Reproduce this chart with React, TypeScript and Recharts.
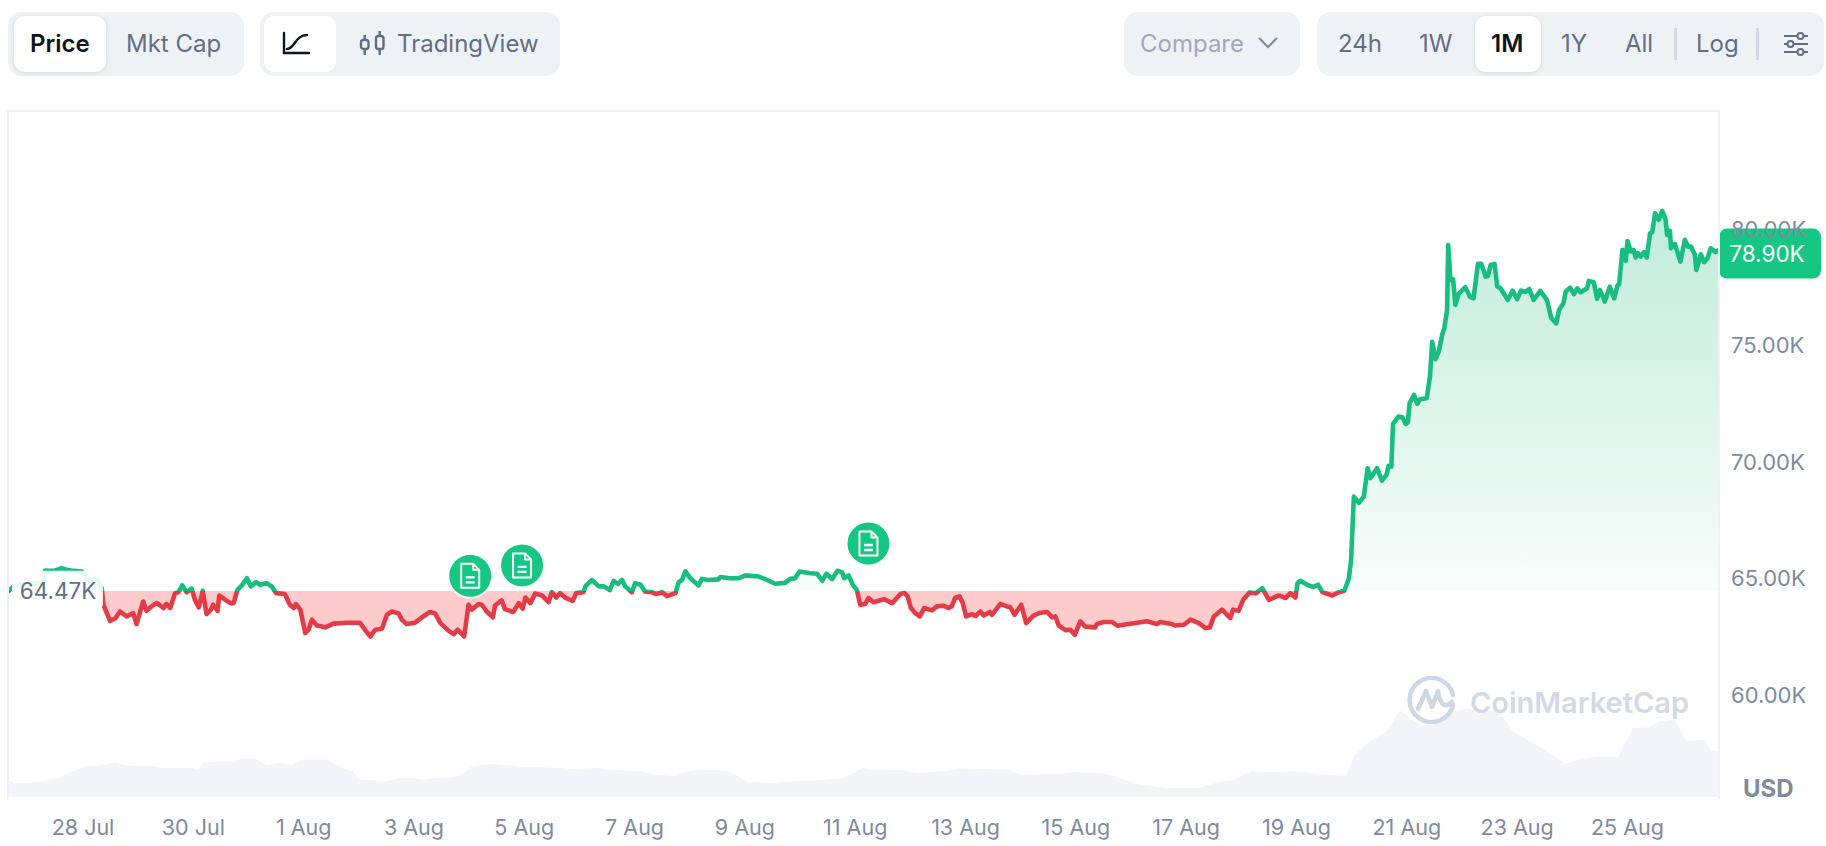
import React from 'react';
import {
  Area,
  CartesianGrid,
  ComposedChart,
  ReferenceDot,
  XAxis,
  YAxis,
} from 'recharts';

// time is in days counted from 28 Jul, prices in thousands of USD
const priceTimes = [
  -1.36, -1.26, -1.02, -0.84, -0.72, -0.69, -0.6, -0.51, -0.39, -0.3, -0.21, -0.02, 0.07, 0.25, 0.34, 0.37, 0.49, 0.58, 0.67, 0.79,
  0.91, 0.97, 1.09, 1.15, 1.28, 1.34, 1.46, 1.51, 1.58, 1.67, 1.73, 1.8, 1.88, 1.97, 2.03, 2.1, 2.17, 2.24, 2.32, 2.36,
  2.44, 2.47, 2.58, 2.67, 2.73, 2.8, 2.88, 2.97, 3.04, 3.14, 3.21, 3.33, 3.42, 3.5, 3.66, 3.75, 3.82, 3.86, 3.94, 4.03,
  4.09, 4.15, 4.24, 4.39, 4.54, 4.78, 5.02, 5.11, 5.21, 5.3, 5.42, 5.51, 5.6, 5.72, 5.78, 5.87, 6.02, 6.17, 6.29, 6.38,
  6.48, 6.63, 6.72, 6.79, 6.91, 6.99, 7.05, 7.17, 7.23, 7.32, 7.43, 7.47, 7.59, 7.65, 7.8, 7.9, 7.97, 8.02, 8.11, 8.2,
  8.32, 8.44, 8.5, 8.58, 8.65, 8.74, 8.88, 8.94, 9.07, 9.12, 9.23, 9.35, 9.44, 9.55, 9.62, 9.7, 9.77, 9.83, 9.95, 10.01,
  10.11, 10.19, 10.31, 10.39, 10.5, 10.59, 10.74, 10.8, 10.86, 10.92, 11.01, 11.16, 11.22, 11.34, 11.52, 11.55, 11.73, 11.89, 12.01, 12.25,
  12.37, 12.55, 12.73, 12.82, 12.91, 12.99, 13.16, 13.31, 13.4, 13.48, 13.58, 13.68, 13.76, 13.8, 13.88, 13.96, 14.03, 14.09, 14.18, 14.24,
  14.33, 14.52, 14.67, 14.82, 14.89, 14.95, 15.01, 15.09, 15.17, 15.25, 15.39, 15.48, 15.6, 15.69, 15.75, 15.81, 15.89, 15.95, 16.01, 16.12,
  16.18, 16.27, 16.33, 16.44, 16.48, 16.63, 16.75, 16.81, 16.89, 17.01, 17.1, 17.23, 17.36, 17.48, 17.57, 17.63, 17.69, 17.81, 17.9, 17.98,
  18.08, 18.17, 18.35, 18.38, 18.5, 18.66, 18.75, 19.05, 19.29, 19.47, 19.53, 19.74, 19.8, 19.96, 20.08, 20.23, 20.35, 20.43, 20.5, 20.65,
  20.8, 20.85, 20.95, 21.04, 21.15, 21.26, 21.38, 21.5, 21.68, 21.8, 21.89, 21.98, 22.02, 22.07, 22.22, 22.31, 22.39, 22.47, 22.65, 22.77,
  22.87, 22.95, 22.99, 23.04, 23.13, 23.22, 23.29, 23.34, 23.46, 23.55, 23.63, 23.67, 23.72, 23.75, 23.85, 23.92, 23.98, 24.02, 24.05, 24.13,
  24.19, 24.24, 24.36, 24.42, 24.46, 24.52, 24.58, 24.64, 24.68, 24.73, 24.75, 24.79, 24.84, 24.88, 24.94, 25.06, 25.15, 25.21, 25.29, 25.35,
  25.43, 25.47, 25.52, 25.59, 25.64, 25.7, 25.83, 25.92, 26.0, 26.07, 26.15, 26.22, 26.3, 26.42, 26.54, 26.62, 26.71, 26.76, 26.84, 26.88,
  26.96, 27.03, 27.09, 27.15, 27.27, 27.3, 27.39, 27.45, 27.5, 27.59, 27.68, 27.76, 27.82, 27.85, 27.91, 27.97, 28.0, 28.06, 28.11, 28.15,
  28.19, 28.24, 28.3, 28.35, 28.41, 28.45, 28.5, 28.57, 28.63, 28.69, 28.72, 28.77, 28.79, 28.86, 28.96, 29.04, 29.1, 29.15, 29.22, 29.25,
  29.33, 29.39, 29.45, 29.51, 29.6, 29.66,
];

const priceValues = [
  64.44, 64.66, 64.76, 64.8, 64.84, 65.34, 65.33, 65.33, 65.44, 65.37, 65.34, 65.3, 64.94, 64.98, 64.58, 63.87, 63.18, 63.27, 63.58, 63.37,
  63.51, 63.04, 64.01, 63.61, 63.87, 63.94, 63.73, 63.91, 63.73, 64.37, 64.41, 64.7, 64.41, 64.56, 64.08, 63.76, 64.47, 63.47, 63.66, 63.87,
  63.61, 64.27, 64.08, 63.94, 63.94, 64.51, 64.7, 65.01, 64.66, 64.84, 64.73, 64.8, 64.66, 64.37, 64.33, 63.87, 63.73, 63.9, 63.66, 62.66,
  62.8, 63.23, 62.98, 62.9, 63.06, 63.1, 63.1, 62.8, 62.51, 62.8, 62.84, 63.44, 63.58, 63.5, 63.23, 63.04, 63.1, 63.37, 63.56, 63.51,
  63.08, 62.75, 62.61, 62.8, 62.51, 63.87, 63.66, 63.9, 63.87, 63.58, 63.33, 63.84, 64.06, 63.68, 63.56, 63.94, 63.7, 64.18, 63.94, 64.36,
  64.27, 63.98, 64.41, 64.18, 64.37, 64.18, 64.04, 64.37, 64.41, 64.7, 64.93, 64.66, 64.66, 64.5, 64.9, 64.76, 64.94, 64.66, 64.41, 64.8,
  64.73, 64.44, 64.41, 64.33, 64.41, 64.24, 64.37, 64.84, 64.94, 65.3, 65.01, 64.7, 64.98, 64.93, 64.96, 65.06, 65.01, 65.01, 65.13, 65.08,
  64.97, 64.77, 64.81, 64.98, 65.01, 65.3, 65.23, 65.2, 64.9, 65.2, 64.97, 65.33, 65.27, 65.01, 65.13, 64.7, 64.51, 63.87, 63.9, 64.16,
  63.98, 64.11, 63.94, 64.33, 64.38, 64.23, 63.73, 63.51, 63.37, 63.73, 63.63, 63.8, 63.83, 63.73, 63.8, 64.16, 64.23, 63.94, 63.37, 63.47,
  63.38, 63.58, 63.41, 63.56, 63.44, 63.91, 63.8, 63.77, 63.44, 63.87, 63.08, 63.4, 63.53, 63.56, 63.33, 63.37, 62.98, 62.78, 62.8, 62.58,
  63.16, 62.93, 62.9, 63.04, 63.13, 63.13, 62.97, 63.08, 63.16, 63.04, 63.13, 63.04, 62.98, 63.01, 63.23, 63.08, 62.87, 62.9, 63.37, 63.66,
  63.3, 63.66, 63.61, 64.11, 64.4, 64.36, 64.58, 64.08, 64.27, 64.16, 64.37, 64.18, 64.8, 64.9, 64.7, 64.63, 64.73, 64.41, 64.27, 64.41,
  64.48, 65.01, 65.79, 68.51, 68.25, 68.51, 69.73, 69.3, 69.73, 69.2, 69.44, 69.83, 69.8, 71.63, 71.95, 71.92, 71.63, 71.7, 72.52, 72.88,
  72.49, 72.69, 72.73, 73.66, 75.16, 74.41, 74.74, 75.45, 75.74, 76.52, 79.31, 77.81, 77.84, 76.74, 77.21, 77.5, 77.07, 77.02, 78.5, 78.5,
  77.95, 77.98, 78.45, 78.5, 77.53, 77.45, 76.95, 77.35, 76.98, 77.35, 77.3, 77.42, 76.95, 77.34, 76.95, 76.17, 75.95, 76.52, 76.81, 77.31,
  77.48, 77.2, 77.45, 77.28, 77.45, 77.77, 77.71, 77.0, 77.38, 76.88, 77.52, 77.02, 77.57, 77.63, 79.1, 78.63, 79.48, 79.03, 79.1, 78.77,
  78.96, 78.81, 79.0, 78.77, 79.81, 79.86, 80.67, 80.39, 80.77, 80.43, 79.74, 79.91, 79.17, 79.36, 78.6, 79.53, 79.24, 79.24, 78.91, 78.24,
  78.91, 78.57, 78.74, 79.17, 79.0, 79.1,
];

const volumeTimes = [
  -1.36, -1.25, -1.04, -0.72, -0.41, -0.26, 0.06, 0.32, 0.58, 0.79, 1.31, 1.41, 1.98, 2.09, 2.19, 2.66, 2.92, 3.13, 3.34, 3.54,
  3.8, 3.96, 4.43, 4.69, 4.9, 5.0, 5.26, 5.42, 5.73, 6.04, 6.2, 6.35, 6.67, 6.87, 7.05, 7.45, 7.97, 8.7, 8.8, 9.32,
  9.53, 10.1, 10.41, 10.73, 10.88, 11.14, 11.66, 11.87, 12.03, 12.6, 12.7, 13.38, 13.75, 13.95, 14.14, 14.32, 14.82, 15.14, 15.62, 15.89,
  16.8, 17.01, 17.71, 17.92, 18.46, 18.73, 19.05, 19.32, 19.64, 20.23, 20.55, 20.87, 21.19, 21.51, 22.1, 22.48, 22.9, 23.04, 23.28, 23.65,
  23.87, 24.03, 24.24, 24.51, 24.83, 25.1, 25.69, 25.9, 26.23, 26.49, 26.87, 27.08, 27.46, 27.83, 28.1, 28.37, 28.58, 28.85, 29.07, 29.39,
  29.5, 29.67,
];

const volumeValues = [
  10.1, 7.8, 8.2, 9.1, 11.5, 14.0, 17.9, 18.4, 20.2, 18.3, 17.9, 16.9, 16.9, 15.9, 20.2, 20.8, 22.5, 22.3, 18.3, 19.8,
  18.8, 21.7, 21.7, 16.9, 15.0, 10.1, 9.7, 8.7, 11.1, 10.9, 9.7, 11.1, 11.3, 12.6, 17.9, 19.2, 17.5, 17.1, 16.3, 16.9,
  15.9, 15.0, 13.0, 12.0, 14.4, 15.9, 15.5, 12.4, 8.7, 8.2, 8.7, 9.9, 10.9, 13.6, 16.9, 15.9, 15.7, 14.0, 15.0, 16.7,
  15.9, 13.0, 13.4, 14.6, 14.0, 12.0, 7.8, 6.6, 5.2, 5.2, 8.5, 10.1, 15.3, 14.6, 15.0, 13.0, 12.4, 23.7, 31.5, 38.8,
  50.5, 47.0, 41.6, 42.1, 49.9, 51.3, 49.9, 39.2, 32.4, 27.6, 19.4, 21.4, 23.7, 23.3, 40.2, 40.6, 44.1, 45.0, 32.8, 33.4,
  27.6, 26.6,
];

const dateTicks = [0, 2, 4, 6, 8, 10, 12, 14, 16, 18, 20, 22, 24, 26, 28];
const dateLabels = [
  '28 Jul', '30 Jul', '1 Aug', '3 Aug', '5 Aug', '7 Aug', '9 Aug', '11 Aug',
  '13 Aug', '15 Aug', '17 Aug', '19 Aug', '21 Aug', '23 Aug', '25 Aug',
];
const priceTicks = [60, 65, 70, 75, 80];
const basePrice = 64.47;
const lastPrice = 78.9;
const newsTimes = [7.02, 7.96, 14.24];
const newsPrices = [65.11, 65.56, 66.5];

const GREEN = '#16c784';
const LINE_GREEN = '#19bd80';
const RED = '#e23c46';
const FONT = 'Inter, sans-serif';
const X_DOMAIN: [number, number] = [-1.36, 29.66];

const priceRows = priceTimes.map((t, i) => ({ t, price: priceValues[i] }));
const volumeRows = volumeTimes.map((t, i) => ({ t, volume: volumeValues[i] }));

// where the baseline sits inside the bounding box of the price path
const maxPrice = Math.max(...priceValues);
const minPrice = Math.min(...priceValues);
const splitOffset = (maxPrice - basePrice) / (maxPrice - minPrice);

function LastPriceTag({ cx, cy }: { cx?: number; cy?: number }) {
  return (
    <g>
      <rect x={cx} y={cy - 26} width={102} height={50} rx={8} fill={GREEN} />
      <text x={cx + 48} y={cy + 7} textAnchor="middle" fill="#fff" fontSize={22.5} fontFamily={FONT}>
        {lastPrice.toFixed(2)}K
      </text>
    </g>
  );
}

function BasePriceTag({ cx, cy }: { cx?: number; cy?: number }) {
  return (
    <g>
      <rect x={cx + 4} y={cy - 20} width={91} height={39} rx={6} fill="#fff" fillOpacity={0.9} />
      <text x={cx + 50} y={cy + 8} textAnchor="middle" fill="#616e85" fontSize={22.5} fontFamily={FONT}>
        {basePrice.toFixed(2)}K
      </text>
    </g>
  );
}

function NewsMarker({ cx, cy }: { cx?: number; cy?: number }) {
  return (
    <g transform={`translate(${cx},${cy})`}>
      <circle r={23} fill="#fff" fillOpacity={0.85} />
      <circle r={21} fill={GREEN} />
      <path
        d="M-9,-12 H3 L9,-6 V12 H-9 Z M3,-12 V-6 H9"
        fill="none"
        stroke="#fff"
        strokeWidth={2}
        strokeLinejoin="round"
      />
      <path d="M-4.5,1.5 H4.5 M-4.5,6.5 H4.5" stroke="#fff" strokeWidth={2.4} />
    </g>
  );
}

function ToolbarText({ left, children, color = '#616e85', weight = 400 }: any) {
  return (
    <span
      style={{
        position: 'absolute',
        left,
        top: 29,
        lineHeight: '30px',
        fontSize: 24,
        fontWeight: weight,
        color,
        whiteSpace: 'nowrap',
      }}
    >
      {children}
    </span>
  );
}

function Box({ left, width, top = 12, height = 64, bg = '#eff2f5', radius = 14, shadow }: any) {
  return (
    <div
      style={{
        position: 'absolute',
        left,
        top,
        width,
        height,
        background: bg,
        borderRadius: radius,
        boxShadow: shadow,
      }}
    />
  );
}

function Toolbar() {
  const lift = '0 1px 4px rgba(88,102,126,0.18)';
  return (
    <>
      <Box left={8} width={236} />
      <Box left={14} top={16} width={92} height={56} bg="#fff" radius={11} shadow={lift} />
      <ToolbarText left={30} color="#0d1421" weight={600}>Price</ToolbarText>
      <ToolbarText left={126}>Mkt Cap</ToolbarText>

      <Box left={260} width={300} />
      <Box left={264} top={16} width={72} height={56} bg="#fff" radius={11} />
      <svg style={{ position: 'absolute', left: 281, top: 31 }} width={30} height={25} fill="none" stroke="#0d1421" strokeWidth={2.4} strokeLinecap="round">
        <path d="M3,2 V22 H28" />
        <path d="M6,18 C14,18 14,4 26,4" />
      </svg>
      <svg style={{ position: 'absolute', left: 359, top: 31 }} width={27} height={25} fill="none" stroke="#616e85" strokeWidth={2.4}>
        <rect x={2} y={9} width={7.5} height={9} rx={2.5} />
        <rect x={17} y={5} width={7.5} height={13} rx={2.5} />
        <path d="M5.7,4 V9 M5.7,18 V24 M20.7,0 V5 M20.7,18 V24" />
      </svg>
      <ToolbarText left={397}>TradingView</ToolbarText>

      <Box left={1124} width={176} />
      <ToolbarText left={1140} color="#a1a7bb">Compare</ToolbarText>
      <svg style={{ position: 'absolute', left: 1257, top: 35 }} width={22} height={16} fill="none" stroke="#808a9d" strokeWidth={2.2}>
        <path d="M2,3 L11,12 L20,3" />
      </svg>

      <Box left={1317} width={507} />
      <Box left={1475} top={16} width={66} height={56} bg="#fff" radius={11} shadow={lift} />
      <ToolbarText left={1338}>24h</ToolbarText>
      <ToolbarText left={1419}>1W</ToolbarText>
      <ToolbarText left={1491} color="#0d1421" weight={600}>1M</ToolbarText>
      <ToolbarText left={1561}>1Y</ToolbarText>
      <ToolbarText left={1625}>All</ToolbarText>
      <Box left={1674} top={28} width={3} height={32} bg="#cfd6e4" radius={1} />
      <ToolbarText left={1696}>Log</ToolbarText>
      <Box left={1756} top={28} width={3} height={32} bg="#cfd6e4" radius={1} />
      <svg style={{ position: 'absolute', left: 1783, top: 32 }} width={26} height={24} fill="none" stroke="#616e85" strokeWidth={2}>
        <path d="M1,4 H14 M21,4 H25 M1,12 H4 M11,12 H25 M1,20 H14 M21,20 H25" />
        <circle cx={17.5} cy={4} r={3} />
        <circle cx={7.5} cy={12} r={3} />
        <circle cx={17.5} cy={20} r={3} />
      </svg>
    </>
  );
}

function Watermark() {
  return (
    <>
      <svg style={{ position: 'absolute', left: 1407, top: 676 }} width={50} height={48} fill="none" stroke="#cfd6e4" strokeWidth={4.5} strokeLinecap="round" strokeLinejoin="round">
        <path d="M46,29 A22,22 0 1 1 46,19" />
        <path d="M11,33 L19,15 L25,31 L31,15 C33,28 37,33 45,26" />
      </svg>
      <span
        style={{
          position: 'absolute',
          left: 1470,
          top: 684,
          fontSize: 29,
          lineHeight: '38px',
          fontWeight: 600,
          color: '#d3d9e5',
          whiteSpace: 'nowrap',
        }}
      >
        CoinMarketCap
      </span>
    </>
  );
}

export default function App() {
  return (
    <div style={{ position: 'absolute', left: 0, top: 0, width: 1826, height: 846, fontFamily: FONT, background: '#fff' }}>
      <Toolbar />

      <div style={{ position: 'absolute', left: 0, top: 0 }}>
        <ComposedChart
          width={1826}
          height={846}
          data={priceRows}
          margin={{ top: 111, right: 0, bottom: 0, left: 8 }}
        >
          <defs>
            <linearGradient id="priceStroke" x1="0" y1="0" x2="0" y2="1">
              <stop offset={splitOffset} stopColor={LINE_GREEN} />
              <stop offset={splitOffset} stopColor={RED} />
            </linearGradient>
            <linearGradient id="priceFill" x1="0" y1="0" x2="0" y2="1">
              <stop offset={0} stopColor="#16b877" stopOpacity={0.27} />
              <stop offset={splitOffset} stopColor="#16b877" stopOpacity={0.03} />
              <stop offset={splitOffset} stopColor="#fdcbcb" stopOpacity={1} />
              <stop offset={1} stopColor="#fdcbcb" stopOpacity={1} />
            </linearGradient>
          </defs>

          <CartesianGrid vertical={false} stroke="#eff2f5" strokeWidth={2} syncWithTicks />

          <XAxis
            dataKey="t"
            type="number"
            domain={X_DOMAIN}
            allowDataOverflow
            ticks={dateTicks}
            tickFormatter={(v: number) => dateLabels[dateTicks.indexOf(v)]}
            height={49}
            axisLine={false}
            tickLine={false}
            tickMargin={17}
            interval={0}
            tick={{ fill: '#808a9d', fontSize: 21.5, fontFamily: FONT }}
          />
          <YAxis
            yAxisId="price"
            orientation="right"
            width={107}
            domain={[55.62, 85.06]}
            allowDataOverflow
            ticks={priceTicks}
            tickFormatter={(v: number) => `${v.toFixed(2)}K`}
            axisLine={false}
            tickLine={false}
            tickMargin={6}
            interval={0}
            tick={{ fill: '#808a9d', fontSize: 22, fontFamily: FONT }}
          />
          <YAxis yAxisId="volume" hide domain={[0, 400]} />

          <Area
            yAxisId="volume"
            data={volumeRows}
            dataKey="volume"
            type="linear"
            stroke="none"
            fill="#f2f4f7"
            fillOpacity={1}
            dot={false}
            activeDot={false}
            isAnimationActive={false}
          />
          <Area
            yAxisId="price"
            dataKey="price"
            type="linear"
            baseValue={basePrice}
            stroke="url(#priceStroke)"
            strokeWidth={4.6}
            strokeLinejoin="round"
            fill="url(#priceFill)"
            fillOpacity={1}
            dot={false}
            activeDot={false}
            isAnimationActive={false}
          />

          {newsTimes.map((t, i) => (
            <ReferenceDot
              key={t}
              yAxisId="price"
              x={t}
              y={newsPrices[i]}
              ifOverflow="visible"
              shape={<NewsMarker />}
            />
          ))}
          <ReferenceDot
            yAxisId="price"
            x={X_DOMAIN[0]}
            y={basePrice}
            ifOverflow="visible"
            shape={<BasePriceTag />}
          />
          <ReferenceDot
            yAxisId="price"
            x={X_DOMAIN[1]}
            y={lastPrice}
            ifOverflow="visible"
            shape={<LastPriceTag />}
          />
        </ComposedChart>
      </div>

      {/* plot frame, no line along the bottom */}
      <div
        style={{
          position: 'absolute',
          left: 7,
          top: 110,
          width: 1709,
          height: 687,
          borderTop: '2px solid #eff2f5',
          borderLeft: '2px solid #eff2f5',
          borderRight: '2px solid #eff2f5',
          pointerEvents: 'none',
        }}
      />

      <Watermark />

      <span
        style={{
          position: 'absolute',
          left: 1743,
          top: 775,
          fontSize: 24,
          lineHeight: '28px',
          fontWeight: 700,
          color: '#808a9d',
        }}
      >
        USD
      </span>
    </div>
  );
}
